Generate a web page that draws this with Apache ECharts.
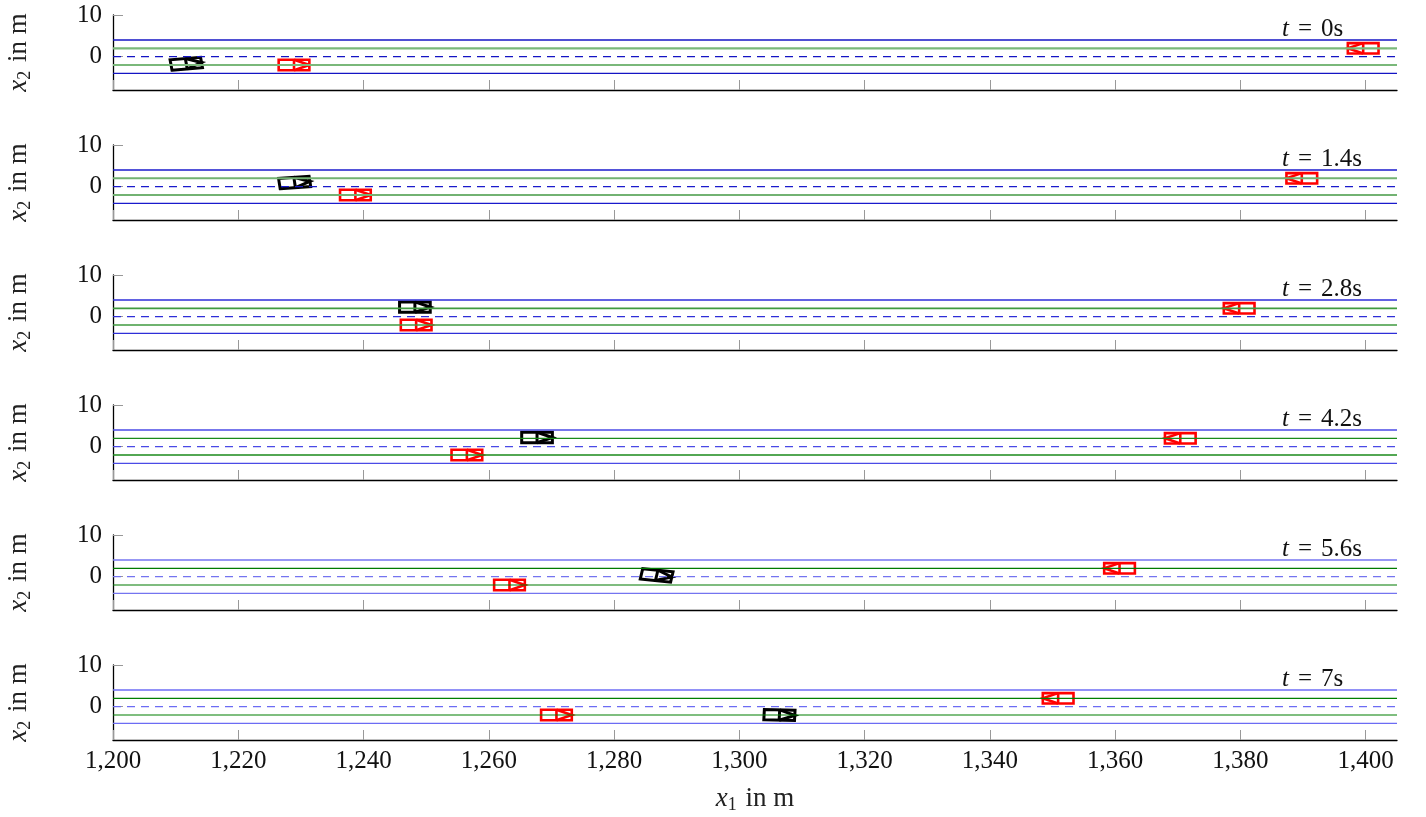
<!DOCTYPE html>
<html>
<head>
<meta charset="utf-8">
<script src="https://cdn.jsdelivr.net/npm/echarts@6/dist/echarts.min.js"></script>
<style>
  html, body { margin: 0; padding: 0; background: #fff; }
  #chart { width: 1426px; height: 817px; }
</style>
</head>
<body>
<div id="chart"></div>
<script>
// snapshot times (s)
const times = ['0', '1.4', '2.8', '4.2', '5.6', '7'];
// ego vehicle (black): x1, x2, heading in degrees
const egoX = [1211.7, 1229.0, 1248.2, 1267.7, 1286.8, 1306.4];
const egoY = [-1.7, 1.0, 2.3, 2.2, 0.3, -2.0];
const egoHeading = [7, 6, 0, 0, -9, -2];
// vehicle ahead in the same lane (red, driving right)
const leadX = [1228.9, 1238.7, 1248.4, 1256.5, 1263.3, 1270.8];
const leadY = [-2, -2, -2, -2, -2, -2];
// oncoming vehicle (red, driving left)
const oncomingX = [1399.6, 1389.8, 1379.8, 1370.4, 1360.7, 1350.9];
const oncomingY = [2, 2, 2, 2, 2, 2];
// road markings
const roadEdges = [4, -4];
const laneLines = [2, -2];
const centerLine = [0];
const xTicks = [1200, 1220, 1240, 1260, 1280, 1300, 1320, 1340, 1360, 1380, 1400];
const yTicks = [0, 10];

const carLength = 4.9;
const carWidth = 2.5;

// per panel line colours drift a little in the original
const blueColors = ['#1414c4', '#1a1acc', '#2e2ed8', '#4a4ae6', '#7474f0', '#6c6cf4'];
const greenColors = ['#7ab87a', '#72b272', '#3f9a3f', '#1a8a1a', '#007a00', '#007f00'];
const greenWidths = [2.2, 2.0, 1.6, 1.3, 1.2, 1.2];

const font = '"Liberation Serif", "DejaVu Serif", serif';
const chart = echarts.init(document.getElementById('chart'));

function renderCar(params, api) {
  const cx = api.value(0), cy = api.value(1);
  const a = api.value(2) * Math.PI / 180;
  const ca = Math.cos(a), sa = Math.sin(a);
  const pt = (u, v) => api.coord([cx + u * ca - v * sa, cy + u * sa + v * ca]);
  const L = carLength / 2, W = carWidth / 2;
  const style = { stroke: api.visual('color'), fill: null, lineWidth: api.value(3), lineJoin: 'miter' };
  return {
    type: 'group',
    children: [
      { type: 'polygon', shape: { points: [pt(-L, -W), pt(L, -W), pt(L, W), pt(-L, W)] }, style: style },
      { type: 'polyline', shape: { points: [pt(0, -W), pt(0, W)] }, style: style },
      { type: 'polyline', shape: { points: [pt(0, W), pt(L, 0), pt(0, -W)] }, style: style }
    ]
  };
}

const nameRich = {
  i: { fontFamily: font, fontStyle: 'italic', fontSize: 27, color: '#222' },
  s: { fontFamily: font, fontSize: 18, color: '#222', padding: [12, 2, 0, 0] },
  n: { fontFamily: font, fontSize: 27, color: '#222' }
};

const grids = [], xAxes = [], yAxes = [], series = [], titles = [];
times.forEach((t, i) => {
  const last = i === times.length - 1;
  grids.push({ left: 113, right: 29, top: 15 + 130 * i, height: 75, containLabel: false, outerBoundsMode: 'none' });
  xAxes.push({
    type: 'value', gridIndex: i, min: 1200, max: 1405,
    axisLine: { onZero: false, lineStyle: { color: '#000', width: 1.3 } },
    axisTick: { inside: true, length: 10, customValues: xTicks, lineStyle: { color: '#999', width: 1 } },
    axisLabel: {
      show: last, customValues: xTicks, margin: 9, color: '#111', fontFamily: font, fontSize: 25,
      formatter: v => v.toLocaleString('en-US')
    },
    splitLine: { show: false },
    name: last ? '{i|x}{s|1}{n| in m}' : '',
    nameLocation: 'middle', nameGap: 44,
    nameTextStyle: { color: '#222', fontFamily: font, fontSize: 27, rich: nameRich }
  });
  yAxes.push({
    type: 'value', gridIndex: i, min: -8, max: 10,
    axisLine: { show: true, onZero: false, lineStyle: { color: '#000', width: 1.3 } },
    axisTick: { show: true, inside: true, length: 10, customValues: yTicks, lineStyle: { color: '#999', width: 1 } },
    axisLabel: { customValues: yTicks, margin: 11, color: '#111', fontFamily: font, fontSize: 25 },
    splitLine: { show: false },
    name: '{i|x}{s|2}{n| in m}',
    nameLocation: 'middle', nameRotate: 90, nameGap: 79,
    nameTextStyle: { color: '#222', fontFamily: font, fontSize: 27, rich: nameRich }
  });
  titles.push({
    text: '{i|t}{e|=}{n|' + t + 's}', left: 1282, top: 17 + 130 * i, padding: 0,
    textStyle: {
      color: '#111', fontFamily: font, fontSize: 25, fontWeight: 'normal',
      rich: {
        i: { fontFamily: font, fontStyle: 'italic', fontSize: 25, color: '#111' },
        e: { fontFamily: font, fontSize: 25, color: '#111', padding: [0, 9, 0, 9] },
        n: { fontFamily: font, fontSize: 25, color: '#111' }
      }
    }
  });

  const lane = (y, color, width, type) => ({
    type: 'line', xAxisIndex: i, yAxisIndex: i, data: [[1200, y], [1405, y]],
    showSymbol: false, symbol: 'none', silent: true, animation: false,
    lineStyle: { color: color, width: width, type: type }
  });
  roadEdges.forEach(y => series.push(lane(y, blueColors[i], 1.4, 'solid')));
  laneLines.forEach(y => series.push(lane(y, greenColors[i], greenWidths[i], 'solid')));
  centerLine.forEach(y => series.push(lane(y, blueColors[i], 1.4, [8, 6])));

  series.push({
    type: 'custom', xAxisIndex: i, yAxisIndex: i, renderItem: renderCar,
    itemStyle: { color: '#ff0000' }, animation: false, silent: true,
    data: [[leadX[i], leadY[i], 0, 2.6], [oncomingX[i], oncomingY[i], 180, 2.6]]
  });
  series.push({
    type: 'custom', xAxisIndex: i, yAxisIndex: i, renderItem: renderCar,
    itemStyle: { color: '#000000' }, animation: false, silent: true,
    data: [[egoX[i], egoY[i], egoHeading[i], 3]]
  });
});

chart.setOption({
  backgroundColor: '#fff',
  animation: false,
  title: titles,
  grid: grids,
  xAxis: xAxes,
  yAxis: yAxes,
  series: series
});
</script>
</body>
</html>
